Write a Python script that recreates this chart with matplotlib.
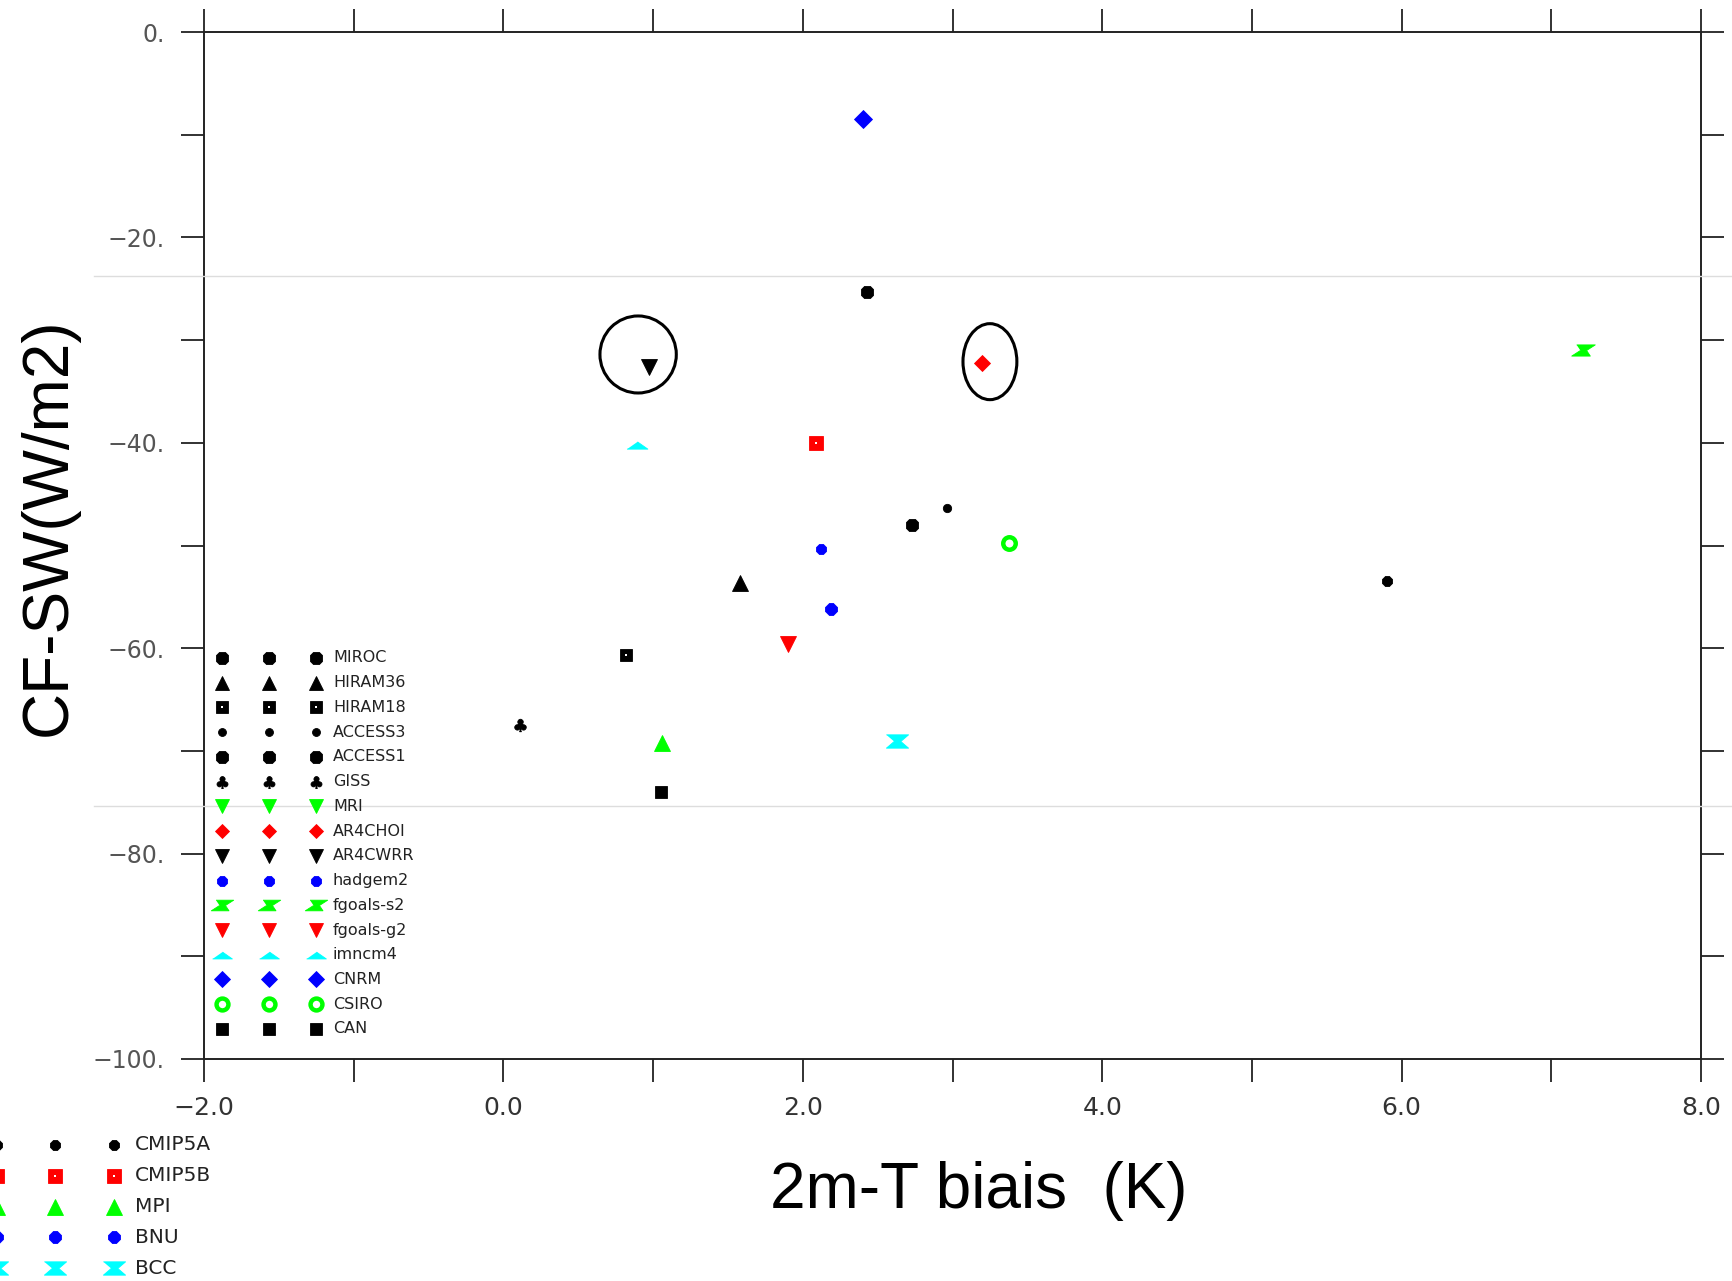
import numpy as np
import matplotlib
matplotlib.use("Agg")
import matplotlib.pyplot as plt
from matplotlib.patches import Ellipse
from matplotlib.lines import Line2D

# ---- data ----
# legend block inside the axes
models_in = ['MIROC', 'HIRAM36', 'HIRAM18', 'ACCESS3', 'ACCESS1', 'GISS', 'MRI',
             'AR4CHOI', 'AR4CWRR', 'hadgem2', 'fgoals-s2', 'fgoals-g2', 'imncm4',
             'CNRM', 'CSIRO', 'CAN']
# legend block below the axes
models_out = ['CMIP5A', 'CMIP5B', 'MPI', 'BNU', 'BCC']

models = models_in + models_out
# 2m-T bias (K) and CF-SW (W/m2); MRI has no visible point
bias_t = [2.43, 1.58, 0.82, 2.96, 2.73, 0.11, np.nan,
          3.20, 0.97, 2.12, 7.21, 1.90, 0.89,
          2.40, 3.38, 1.05,
          5.90, 2.09, 1.06, 2.19, 2.63]
cf_sw = [-25.3, -53.7, -60.7, -46.3, -48.0, -67.5, np.nan,
         -32.2, -32.6, -50.3, -31.0, -59.6, -40.2,
         -8.5, -49.8, -74.0,
         -53.5, -40.0, -69.2, -56.2, -69.0]

colors = ['k', 'k', 'k', 'k', 'k', 'k', '#00ff00',
          '#ff0000', 'k', '#0000ff', '#00ff00', '#ff0000', '#00ffff',
          '#0000ff', '#00ff00', 'k',
          'k', '#ff0000', '#00ff00', '#0000ff', '#00ffff']

xtick_vals = [-2, 0, 2, 4, 6, 8]
xtick_labels = ['\u22122.0', '0.0', '2.0', '4.0', '6.0', '8.0']
ytick_vals = [0, -20, -40, -60, -80, -100]
ytick_labels = ['0.', '\u221220.', '\u221240.', '\u221260.', '\u221280.', '\u2212100.']

# highlighted points (AR4CWRR, AR4CHOI): centre x, centre y, width, height
ring_x = [0.90, 3.25]
ring_y = [-31.4, -32.1]
ring_w = [0.51, 0.36]
ring_h = [7.5, 7.4]

# ---- marker shapes ----
flat_tri = [(-1, -0.35), (1, -0.35), (0, 0.35)]
zed = [(-0.55, 0.45), (0.95, 0.45), (0.25, 0.0), (0.55, -0.45), (-0.95, -0.45), (-0.25, 0.0)]
hourglass = [(-1, 0.6), (1, 0.6), (0.3, 0), (1, -0.6), (-1, -0.6), (-0.3, 0)]
shapes = {
    'MIROC': ('8', 10), 'HIRAM36': ('^', 11), 'HIRAM18': ('s', 9), 'ACCESS3': ('o', 6),
    'ACCESS1': ('8', 10), 'GISS': ('$\u2663$', 9), 'MRI': ('v', 11), 'AR4CHOI': ('D', 8),
    'AR4CWRR': ('v', 11), 'hadgem2': ('8', 8.5), 'fgoals-s2': (zed, 17), 'fgoals-g2': ('v', 11),
    'imncm4': (flat_tri, 15), 'CNRM': ('D', 9), 'CSIRO': ('o', 9), 'CAN': ('s', 9),
    'CMIP5A': ('8', 8.5), 'CMIP5B': ('s', 10), 'MPI': ('^', 12), 'BNU': ('8', 9),
    'BCC': (hourglass, 16),
}
dotted = ['HIRAM18', 'CMIP5B']


def put(axis, name, col, x, y, scale=1.0):
    mk, ms = shapes[name]
    if name == 'CSIRO':
        axis.plot([x], [y], marker='o', ms=ms * scale, mfc='white', mec=col, mew=3.2,
                  ls='none', clip_on=False)
        return
    axis.plot([x], [y], marker=mk, ms=ms * scale, mfc=col, mec=col, mew=0.6,
              ls='none', clip_on=False)
    if name in dotted:
        axis.plot([x], [y], marker='s', ms=1.8 * scale, mfc='white', mec='white',
                  mew=0, ls='none', clip_on=False)


W, H = 1733, 1281
fig = plt.figure(figsize=(W / 100, H / 100), dpi=100)
ax = fig.add_axes([204 / W, 1 - 1059 / H, (1701 - 204) / W, (1059 - 32) / H])

ax.set_xlim(-2, 8)
ax.set_ylim(-100, 0)
ax.set_xticks(xtick_vals)
ax.set_xticklabels(xtick_labels)
ax.set_xticks([-1, 1, 3, 5, 7], minor=True)
ax.set_yticks(ytick_vals)
ax.set_yticklabels(ytick_labels)
ax.set_yticks([-10, -30, -50, -70, -90], minor=True)
ax.tick_params(which='both', direction='out', length=16.5, width=1.3, color='#222222',
               top=True, right=True)
ax.tick_params(axis='x', labelsize=18, labelcolor='#333333', pad=10)
ax.tick_params(axis='y', labelsize=17, labelcolor='#555555', pad=12)
for sp in ax.spines.values():
    sp.set_linewidth(1.4)
    sp.set_color('#222222')

for name, col, x, y in zip(models, colors, bias_t, cf_sw):
    if np.isnan(x):
        continue
    put(ax, name, col, x, y)

for cx, cy, w, h in zip(ring_x, ring_y, ring_w, ring_h):
    ax.add_patch(Ellipse((cx, cy), w, h, fill=False, ec='k', lw=2.2))

# overlay in pixel coordinates for labels, legends and faint slide lines
ov = fig.add_axes([0, 0, 1, 1])
ov.set_xlim(0, W)
ov.set_ylim(H, 0)
ov.axis('off')

for yy in [276, 806]:
    ov.add_line(Line2D([94, W], [yy, yy], color='#dddddd', lw=1))

# legend inside the axes
for i, name in enumerate(models_in):
    yy = 658 + i * 24.73
    col = colors[models.index(name)]
    for xx in [222, 269, 316]:
        put(ov, name, col, xx, yy, scale=0.95)
    ov.text(333, yy, name, fontsize=11.5, color='#222222', va='center', ha='left')

# legend below the axes
for i, name in enumerate(models_out):
    yy = 1145 + i * 30.8
    col = colors[models.index(name)]
    for xx in [-3, 55, 114]:
        put(ov, name, col, xx, yy)
    ov.text(135, yy, name, fontsize=14.5, color='#222222', va='center', ha='left')

fig.text(49 / W, 1 - 527 / H, 'CF-SW(W/m2)', rotation=90, fontsize=46,
         family='Liberation Sans', ha='center', va='center')
fig.text(979 / W, 1 - 1191 / H, '2m-T biais  (K)', fontsize=46,
         family='Liberation Sans', ha='center', va='center')

fig.savefig('out.png', dpi=100)
